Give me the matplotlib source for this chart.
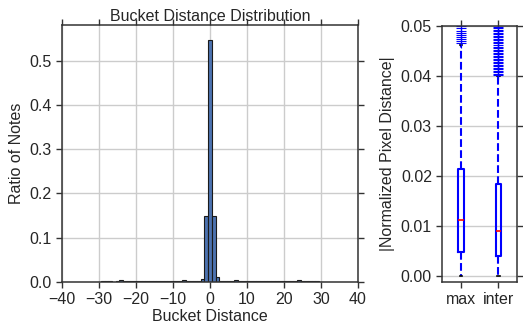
import matplotlib
matplotlib.use('Agg')
import matplotlib.pyplot as plt

plt.rcParams['font.family'] = ['Liberation Sans', 'DejaVu Sans']
plt.rcParams['font.size'] = 11.5
plt.rcParams['text.color'] = '#262626'
plt.rcParams['axes.labelcolor'] = '#262626'
plt.rcParams['xtick.color'] = '#262626'
plt.rcParams['ytick.color'] = '#262626'

# bucket distance histogram (bin centres and ratio of notes)
bucket_dist = [-30, -29, -28, -27, -26, -25, -24, -23, -22, -21, -20, -19, -18,
               -17, -16, -15, -14, -13, -12, -11, -10, -9, -8, -7, -6, -5, -4,
               -3, -2, -1, 0, 1, 2, 3, 4, 5, 6, 7, 8, 9, 10, 11, 12, 13, 14,
               15, 16, 17, 18, 19, 20, 21, 22, 23, 24, 25, 26, 27, 28, 29, 30]
ratio = [0.0005, 0.001, 0.001, 0.001, 0.0005, 0.001, 0.004, 0.003, 0.003, 0.003,
         0.002, 0.002, 0.002, 0.002, 0.002, 0.001, 0.002, 0.002, 0.003, 0.002,
         0.001, 0.002, 0.002, 0.004, 0.003, 0.001, 0.001, 0.001, 0.007, 0.148,
         0.547, 0.149, 0.010, 0.001, 0.001, 0.001, 0.002, 0.004, 0.002, 0.001,
         0.002, 0.003, 0.002, 0.002, 0.002, 0.001, 0.002, 0.002, 0.003, 0.001,
         0.001, 0.003, 0.003, 0.002, 0.004, 0.002, 0.001, 0.001, 0.001, 0.001, 0.0005]

# pixel distance box stats
box_labels = ['max', 'inter']
q1 = [0.0048, 0.0040]
med = [0.0112, 0.0091]
q3 = [0.0215, 0.0185]
whislo = [0.0, 0.0]
whishi = [0.0462, 0.0400]
fliers_max = [0.0465, 0.0469, 0.0473, 0.0477, 0.0481, 0.0486, 0.0490, 0.0495, 0.0500, 0.0520]
fliers_inter = [0.0402, 0.0405, 0.0408, 0.0411, 0.0414, 0.0417, 0.0420, 0.0423, 0.0426,
                0.0429, 0.0432, 0.0435, 0.0438, 0.0441, 0.0444, 0.0447, 0.0450, 0.0453,
                0.0456, 0.0459, 0.0462, 0.0465, 0.0468, 0.0471, 0.0474, 0.0477, 0.0480,
                0.0483, 0.0486, 0.0489, 0.0492, 0.0495, 0.0498, 0.0510, 0.0530]

fig = plt.figure(figsize=(5.23, 3.27), dpi=100)
ax1 = fig.add_axes([0.1185, 0.138, 0.566, 0.785])
ax2 = fig.add_axes([0.8457, 0.139, 0.1428, 0.7815])

for ax in (ax1, ax2):
    ax.set_axisbelow(True)
    ax.grid(True, color='#cccccc', lw=1)
    for s in ax.spines.values():
        s.set_color('#333333')
        s.set_linewidth(1.1)
    ax.tick_params(direction='out', length=4, width=1, color='#333333',
                   top=True, right=True, labelsize=11.5)

# histogram
ax1.bar(bucket_dist, ratio, width=1.0, color='#4c72b0', edgecolor='#1a1a1a', lw=0.8)
ax1.set_xlim(-40, 40)
ax1.set_ylim(0, 0.58)
ax1.set_xticks([-40, -30, -20, -10, 0, 10, 20, 30, 40])
ax1.set_yticks([0.0, 0.1, 0.2, 0.3, 0.4, 0.5])
ax1.set_xlabel('Bucket Distance', labelpad=1)
ax1.set_ylabel('Ratio of Notes')
ax1.set_title('Bucket Distance Distribution', fontsize=11.5, pad=3)

# boxplot
stats = []
fl = [fliers_max, fliers_inter]
for i in range(2):
    stats.append(dict(label=box_labels[i], q1=q1[i], med=med[i], q3=q3[i],
                      whislo=whislo[i], whishi=whishi[i], fliers=fl[i]))
ax2.bxp(stats, widths=0.15,
        boxprops=dict(color='blue', lw=1.5),
        whiskerprops=dict(color='blue', lw=1.5, ls='--'),
        capprops=dict(color='black', lw=1.2),
        medianprops=dict(color='red', lw=1.2),
        flierprops=dict(marker='+', markeredgecolor='blue', markersize=7, lw=0,
                        markeredgewidth=0.8))
ax2.set_xlim(0.5, 2.5)
ax2.set_ylim(-0.0011, 0.05)
ax2.set_yticks([0.0, 0.01, 0.02, 0.03, 0.04, 0.05])
ax2.set_yticklabels(['0.00', '0.01', '0.02', '0.03', '0.04', '0.05'])
ax2.xaxis.grid(False)
ax2.set_ylabel('|Normalized Pixel Distance|', labelpad=4)

fig.savefig('out.png', dpi=100)
